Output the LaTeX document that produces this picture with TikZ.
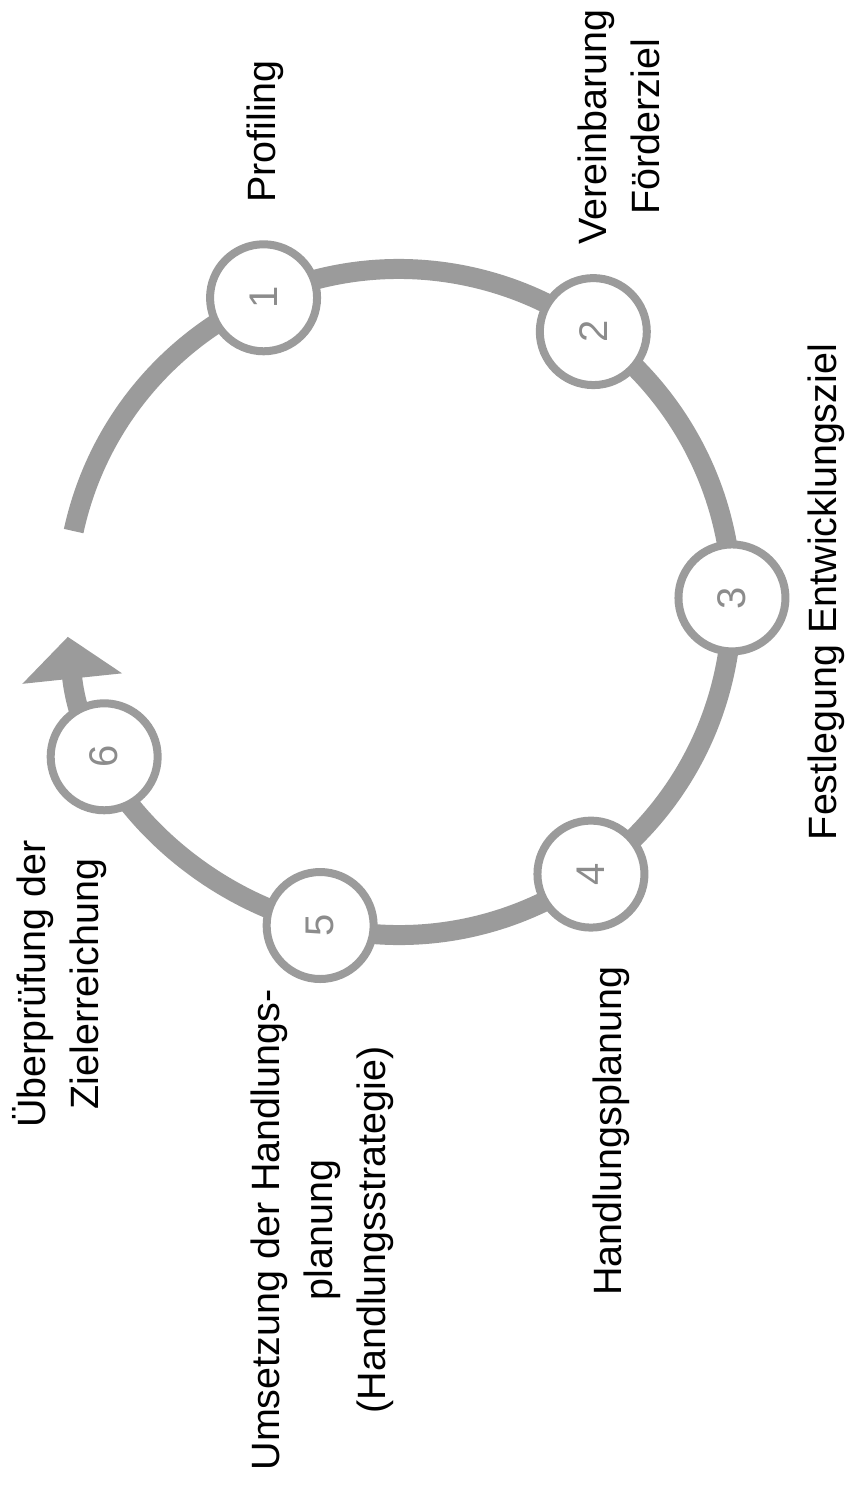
\documentclass[tikz,border=0pt]{standalone}
\usepackage{fontspec}
\setmainfont{Liberation Sans}
\usepackage{xcolor}
\usepackage{tikz}
\usetikzlibrary{arrows.meta, calc}
\definecolor{ringgray}{RGB}{155,155,155}
\definecolor{numgray}{RGB}{140,140,140}

\begin{document}
\begin{tikzpicture}[x=1pt, y=1pt,
    stage/.style={circle, draw=ringgray, line width=8pt, fill=white, minimum size=107pt, inner sep=0pt,
      text=numgray, font=\fontsize{40}{48}\selectfont, rotate=90},
    caption/.style={rotate=90, align=center, inner sep=0pt, font=\fontsize{39.5}{53}\selectfont}]
  \useasboundingbox (0,0) rectangle (850,-1488);
  \coordinate (c) at (399,-602);
  % ring with the arrow at its end
  \draw[ringgray, line width=20pt, -{Triangle[width=98pt, length=42pt]}] ($(c)+(167.7:333)$) arc[start angle=167.7, end angle=-174, radius=333];
  \foreach \a/\n in {114/1, 54.3/2, 0.7/3, -54.8/4, -103.7/5, -152.3/6}
    \node[stage] (s\n) at ($(c)+(\a:333)$) {\n};
  % labels
  \node[caption] (profiling) at (265.5,-131.5) {Profiling};
  \node[caption] (ziel) at (619,-127) {Vereinbarung\\Förderziel};
  \node[caption] (festlegung) at (826,-592) {Festlegung Entwicklungsziel};
  \node[caption] (planung) at (611,-1131) {Handlungsplanung};
  \node[caption] (umsetzung) at (322,-1230) {Umsetzung der Handlungs-\\planung\\(Handlungsstrategie)};
  \node[caption] (pruefung) at (60,-984) {Überprüfung der\\Zielerreichung};
\end{tikzpicture}
\end{document}
